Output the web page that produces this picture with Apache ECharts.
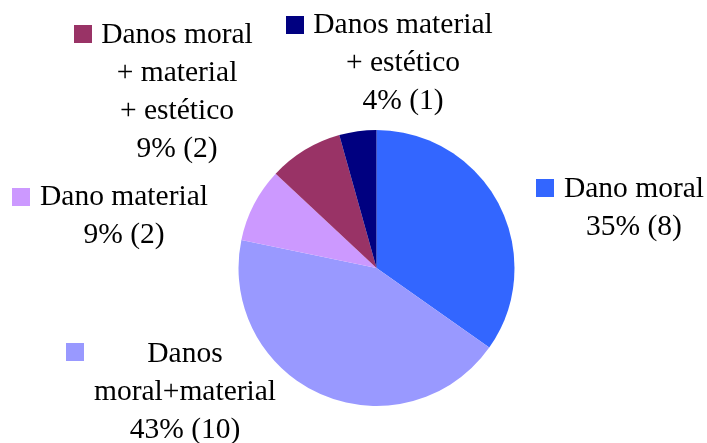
<!DOCTYPE html>
<html>
<head>
<meta charset="utf-8">
<script src="https://cdn.jsdelivr.net/npm/echarts@6/dist/echarts.min.js"></script>
<style>html,body{margin:0;padding:0;background:#fff}#c{width:707px;height:443px}</style>
</head>
<body>
<div id="c"></div>
<script>
var categories = ['Dano moral', 'Danos moral+material', 'Dano material', 'Danos moral + material + estético', 'Danos material + estético'];
var labelText = ['Dano moral', 'Danos\nmoral+material', 'Dano material', 'Danos moral\n+ material\n+ estético', 'Danos material\n+ estético'];
var values = [8, 10, 2, 2, 1];
var colors = ['#3366FF', '#9999FF', '#CC99FF', '#993366', '#000080'];

// label layout (text block center x, top y) and legend key positions
var labelPos = [[634, 170], [185, 335], [124, 178], [177, 16], [403, 6]];
var keyPos = [[536, 179], [66, 343], [12, 188], [74, 25], [286, 16]];

var FONT = '"Liberation Serif", "Times New Roman", serif';

var data = categories.map(function (n, i) {
  return { name: n, value: values[i], itemStyle: { color: colors[i] } };
});

var legends = categories.map(function (n, i) {
  return {
    data: [{ name: n, icon: 'rect' }],
    left: keyPos[i][0], top: keyPos[i][1],
    padding: 0, itemWidth: 18, itemHeight: 18,
    formatter: function () { return ''; },
    selectedMode: false,
    textStyle: { fontSize: 1 }
  };
});

var chart = echarts.init(document.getElementById('c'), null, { renderer: 'canvas' });
chart.setOption({
  animation: false,
  color: colors,
  legend: legends,
  series: [{
    type: 'pie',
    center: [376.5, 268],
    radius: 138,
    startAngle: 90,
    clockwise: true,
    data: data,
    itemStyle: { borderWidth: 0 },
    labelLine: { show: false },
    emphasis: { disabled: true },
    label: {
      show: true,
      position: 'outside',
      fontFamily: FONT,
      fontSize: 29.5,
      lineHeight: 38,
      color: '#000',
      align: 'center',
      formatter: function (p) {
        return labelText[p.dataIndex] + '\n' + Math.round(p.percent) + '% (' + p.value + ')';
      }
    },
    labelLayout: function (p) {
      var pos = labelPos[p.dataIndex];
      return { x: pos[0], y: pos[1], align: 'center', verticalAlign: 'top', hideOverlap: false };
    }
  }]
});
</script>
</body>
</html>
